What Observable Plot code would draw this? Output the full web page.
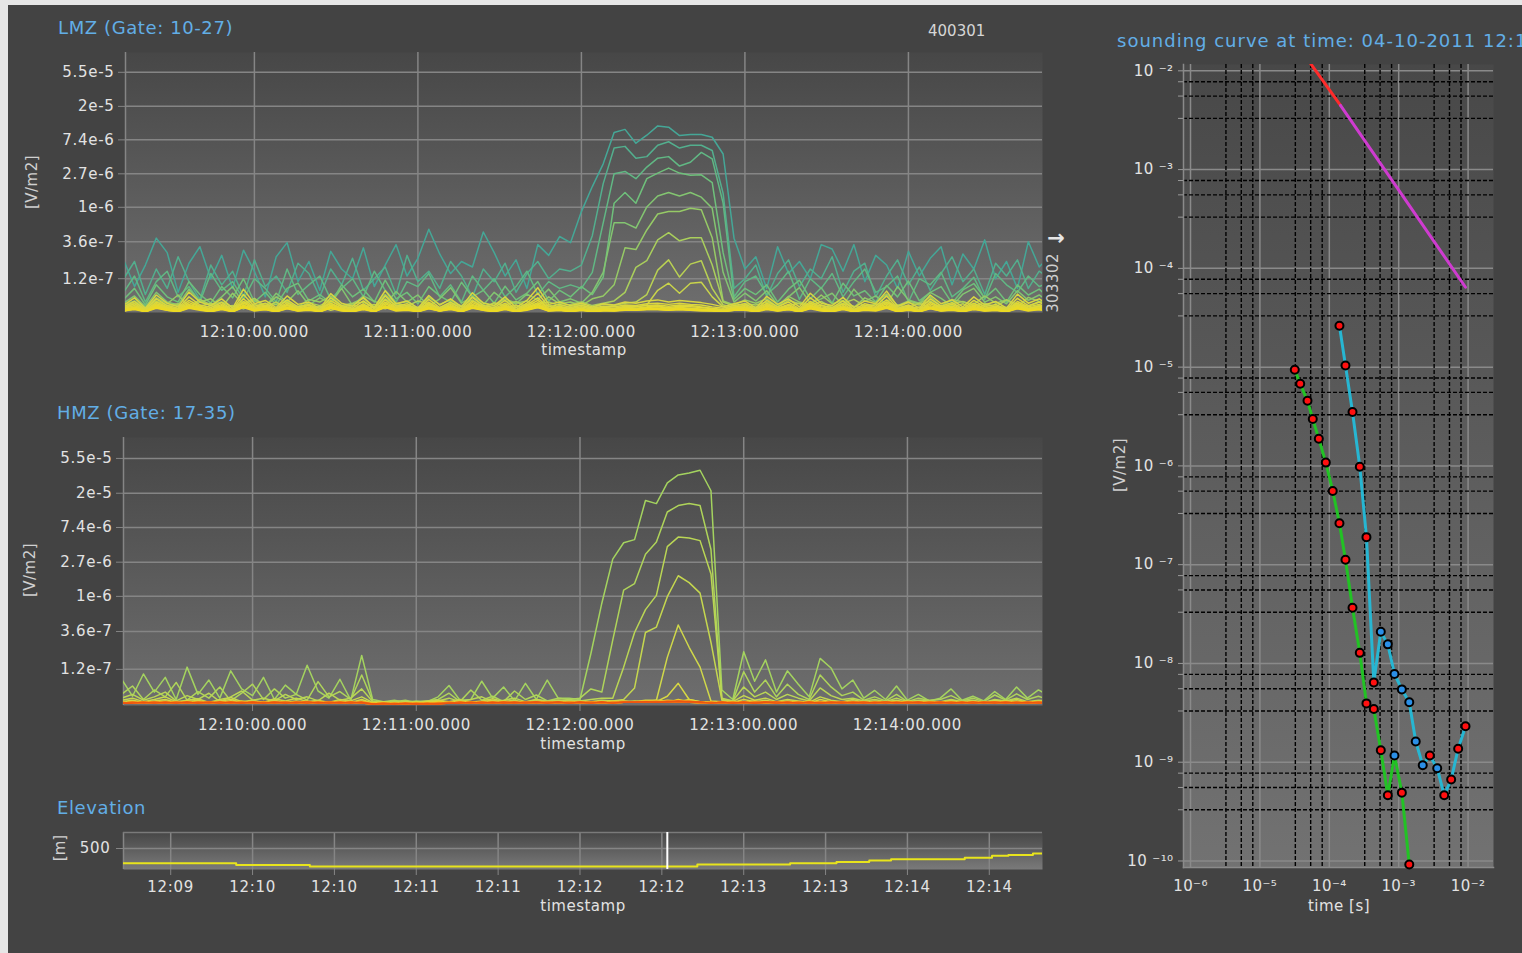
<!DOCTYPE html>
<html>
<head>
<meta charset="utf-8">
<script src="https://cdn.jsdelivr.net/npm/d3@7"></script>
<script src="https://cdn.jsdelivr.net/npm/@observablehq/plot@0.6"></script>
<style>
  html, body { margin: 0; padding: 0; width: 1522px; height: 953px; overflow: hidden; background: #e6e6e6; font-family: "DejaVu Sans", sans-serif; }
  #panel { position: absolute; left: 8px; top: 5px; width: 1514px; height: 948px; background: #434343; }
  .abs { position: absolute; white-space: nowrap; line-height: 1; }
</style>
</head>
<body>
<div id="panel"></div>
<div id="root"></div>
<script>
// ---------- record ----------
const recordDate = "04-10-2011";
const cursorClock = "12:12:32";

// 4 s sampling clock of the flight line
const sampleTime = [
  "12:09:12","12:09:16","12:09:20","12:09:24","12:09:28","12:09:32","12:09:36","12:09:40","12:09:44","12:09:48",
  "12:09:52","12:09:56","12:10:00","12:10:04","12:10:08","12:10:12","12:10:16","12:10:20","12:10:24","12:10:28",
  "12:10:32","12:10:36","12:10:40","12:10:44","12:10:48","12:10:52","12:10:56","12:11:00","12:11:04","12:11:08",
  "12:11:12","12:11:16","12:11:20","12:11:24","12:11:28","12:11:32","12:11:36","12:11:40","12:11:44","12:11:48",
  "12:11:52","12:11:56","12:12:00","12:12:04","12:12:08","12:12:12","12:12:16","12:12:20","12:12:24","12:12:28",
  "12:12:32","12:12:36","12:12:40","12:12:44","12:12:48","12:12:52","12:12:56","12:13:00","12:13:04","12:13:08",
  "12:13:12","12:13:16","12:13:20","12:13:24","12:13:28","12:13:32","12:13:36","12:13:40","12:13:44","12:13:48",
  "12:13:52","12:13:56","12:14:00","12:14:04","12:14:08","12:14:12","12:14:16","12:14:20","12:14:24","12:14:28",
  "12:14:32","12:14:36","12:14:40","12:14:44","12:14:48","12:14:52"
];

// ---------- LMZ dB/dt per gate, in 1e-9 V/m2 ----------
const lmzG10 = [210,95,180,400,260,80,190,310,120,240, 90,280,150,70,230,350,110,200,85,270, 160,120,300,95,180,330,130,220,520,250, 140,200,170,480,260,130,210,90,330,240, 420,350,880,1850,3630,9200,10100,6700,8500,11200, 10800,8400,8700,8700,8000,4860,400,160,230,90, 310,140,200,120,330,290,150,330,110,240, 180,90,270,130,220,310,100,250,160,380, 120,200,90,360,170,240];
const lmzG11 = [120,200,75,160,90,230,110,65,180,100, 150,70,210,95,130,80,190,140,70,160, 100,220,85,120,170,75,240,110,150,90, 200,130,70,160,110,190,80,140,200,120, 160,150,180,430,2020,5800,6100,4300,4500,6300, 7000,5800,6300,6300,5400,1510,90,120,180,70, 140,210,95,160,120,230,80,150,190,70, 130,210,100,170,85,140,230,110,160,75, 190,130,210,90,150,120];
const lmzG12 = [80,130,60,110,150,70,95,60,140,85, 110,65,120,90,60,160,75,100,130,65, 90,120,70,150,85,60,110,95,140,70, 100,60,130,85,120,70,95,150,75,110, 90,100,90,145,630,2710,2900,2340,3300,4300, 4500,3400,3800,5100,4200,1130,70,110,130,75, 100,150,65,120,90,140,70,110,160,80, 95,130,60,120,100,145,70,90,125,65, 140,100,80,130,95,110];
const lmzG13 = [65,90,55,100,70,60,110,75,58,95, 68,120,60,80,55,90,105,62,75,58, 100,70,88,60,115,66,80,57,95,72, 60,108,70,85,58,96,64,78,110,62, 85,70,95,75,126,1130,1550,1130,2340,2760, 3200,2760,2580,2620,2080,260,65,90,75,100, 60,88,115,66,92,58,105,72,84,60, 98,70,112,62,80,95,58,86,104,68, 90,60,100,74,88,65];
const lmzG14 = [58,72,52,80,60,55,88,62,54,70, 95,57,66,52,78,60,84,55,68,58, 90,54,72,61,56,82,60,74,53,66, 92,58,70,55,80,62,57,76,64,88, 60,66,58,80,145,630,630,540,1010,1400, 1550,1400,1550,1350,970,145,60,78,62,84, 55,70,92,58,66,78,54,88,61,72, 56,95,64,58,80,67,53,76,90,60, 70,57,84,63,74,59];
const lmzG15 = [55,62,50,68,57,74,52,60,66,51, 78,56,63,53,70,58,52,65,60,72, 54,58,67,52,75,57,61,50,69,56, 64,52,71,59,54,66,58,62,53,70, 57,60,54,66,72,100,300,285,510,820, 880,880,970,930,405,62,55,64,58,66, 52,71,60,55,74,57,63,51,68,59, 76,54,62,57,70,53,65,60,56,72, 58,64,52,69,61,57];
const lmzG16 = [52,58,50,62,54,57,51,65,55,60, 52,58,67,53,56,61,50,59,54,63, 52,57,60,51,66,55,53,62,57,50, 59,54,64,52,58,55,61,51,57,60, 54,56,60,54,58,62,80,168,205,380, 470,370,405,405,180,60,53,57,55,60, 52,63,57,54,61,51,58,65,53,56, 60,52,59,55,62,50,57,61,54,58, 52,64,56,53,60,55];
const lmzG17 = [50,54,49,57,52,55,50,53,58,51, 54,49,56,52,60,50,53,55,51,57, 49,54,52,56,50,58,53,51,55,49, 57,52,54,50,59,53,51,56,52,55, 50,53,55,51,56,54,58,60,75,155, 210,126,185,205,90,55,51,54,52,56, 50,54,58,51,55,49,57,53,50,56, 52,55,51,58,50,54,52,57,49,55, 53,51,56,50,54,52];
const lmzG18 = [48,51,47,53,50,49,52,48,54,50, 47,52,49,51,48,55,50,49,53,47, 51,50,48,52,49,54,48,51,50,47, 53,49,51,48,52,50,55,48,51,49, 52,50,52,49,51,53,50,52,55,85, 105,78,105,108,70,52,49,51,50,53, 48,51,49,54,50,48,52,49,51,47, 53,50,48,52,50,54,49,51,48,50, 53,49,51,48,52,50];
const lmzG19 = [55,68,50,74,58,52,81,60,54,66, 50,88,57,63,51,72,56,60,49,77, 58,53,69,51,84,57,62,50,73,55, 66,52,79,58,54,70,51,63,92,56, 60,54,58,52,57,55,60,58,62,64, 60,63,61,59,56,52,57,62,50,71, 56,66,52,78,58,54,69,51,62,57, 83,53,60,50,74,57,64,52,70,55, 61,50,76,58,66,53];
const lmzG20 = [52,61,48,66,54,50,70,55,51,59, 48,75,53,58,49,64,52,56,47,68, 54,50,62,49,72,53,57,48,65,51, 60,49,69,54,51,63,48,58,78,52, 56,51,54,50,53,52,55,54,57,58, 56,58,56,55,52,50,54,57,48,63, 52,60,49,68,54,51,62,48,57,53, 72,50,55,48,66,53,59,49,63,52, 56,48,67,54,60,50];
const lmzG21 = [50,57,47,60,52,49,63,53,49,56, 47,66,51,55,48,59,50,54,46,62, 52,48,57,47,64,51,54,47,60,49, 56,48,62,52,49,58,47,55,68,50, 53,49,52,48,51,50,53,52,54,55, 53,55,54,52,50,48,52,54,47,58, 50,56,48,61,52,49,57,47,54,51, 64,49,53,47,60,51,56,48,58,50, 53,47,61,52,56,49];
const lmzG22 = [49,54,46,57,51,48,59,52,48,54, 46,61,50,53,47,56,49,52,46,58, 50,47,55,46,60,50,52,46,57,48, 54,47,59,51,48,55,46,53,63,49, 51,48,50,47,50,49,51,50,52,53, 51,53,52,51,49,47,51,52,46,55, 49,54,47,58,50,48,54,46,52,50, 60,48,51,46,57,50,53,47,55,49, 51,46,58,50,53,48];
const lmzG23 = [48,52,46,55,50,47,56,51,47,52, 46,58,49,51,46,54,48,51,45,55, 49,46,53,46,57,49,51,46,54,47, 52,46,56,50,47,53,46,51,59,48, 50,47,49,46,49,48,50,49,51,52, 50,51,50,49,48,46,50,51,46,53, 48,52,46,55,49,47,52,46,51,49, 57,47,50,46,54,49,51,46,53,48, 50,46,55,49,52,47];
const lmzG24 = [47,51,45,53,49,46,54,50,46,51, 45,55,48,50,46,52,47,50,45,53, 48,46,51,45,54,48,50,45,52,47, 51,46,54,49,46,51,45,50,56,47, 49,46,48,46,48,47,49,48,50,50, 49,50,49,48,47,46,49,50,45,51, 47,50,46,53,48,46,51,45,50,48, 54,46,49,45,52,48,50,46,51,47, 49,45,53,48,50,46];
const lmzG25 = [47,50,45,52,48,46,52,49,46,50, 45,53,47,49,45,51,47,49,45,52, 47,45,50,45,53,47,49,45,51,46, 50,45,52,48,46,50,45,49,54,47, 48,46,48,45,47,47,48,48,49,49, 48,49,48,47,47,45,48,49,45,50, 47,49,45,51,47,46,50,45,49,47, 52,46,48,45,51,47,49,45,50,47, 48,45,51,47,49,46];
const lmzG26 = [46,49,45,51,47,45,51,48,45,49, 45,52,47,48,45,50,46,48,45,51, 47,45,49,45,52,47,48,45,50,46, 49,45,51,47,45,49,45,48,52,46, 47,45,47,45,47,46,48,47,48,48, 47,48,47,47,46,45,47,48,45,49, 46,48,45,50,47,45,49,45,48,47, 51,45,48,45,50,46,48,45,49,46, 47,45,50,47,48,45];
const lmzG27 = [46,48,45,50,47,45,50,47,45,48, 45,51,46,48,45,49,46,47,45,50, 46,45,48,45,51,46,47,45,49,46, 48,45,50,47,45,48,45,47,51,46, 47,45,47,45,46,46,47,47,48,48, 47,48,47,46,46,45,47,47,45,48, 46,48,45,49,46,45,48,45,47,46, 50,45,47,45,49,46,47,45,48,46, 47,45,49,46,48,45];

// ---------- HMZ dB/dt per gate, in 1e-9 V/m2 ----------
const hmzG17 = [90,55,105,62,95,50,128,58,88,52, 115,68,56,95,50,76,58,135,64,52, 90,49,180,50,47,49,46,48,47,54, 75,49,50,85,52,72,48,80,50,88, 52,52,50,190,820,2950,4750,5200,16200,14800, 27000,34000,36000,39000,21500,66,50,200,85,158, 62,115,78,54,165,125,68,88,52,65, 50,74,49,58,48,52,68,49,55,48, 63,50,72,52,66,56];
const hmzG18 = [58,74,50,66,54,82,49,63,52,72, 48,60,78,50,68,52,58,49,84,54, 63,50,102,48,46,47,49,46,48,50, 60,47,66,49,55,47,64,50,57,48, 52,50,52,68,62,280,1200,1450,3400,4850, 11600,14000,14800,14000,3900,50,48,112,62,88, 54,78,58,50,102,72,56,62,49,54, 48,58,47,52,49,50,56,48,52,47, 57,49,59,50,55,49];
const hmzG19 = [52,58,49,54,62,48,56,50,60,47, 54,64,49,52,48,58,50,54,48,60, 49,52,68,47,46,48,46,47,46,48, 52,47,50,54,47,49,52,47,50,48, 49,49,48,50,52,52,128,350,680,1030, 4250,5600,5450,5050,1920,52,48,72,54,62, 50,58,52,48,70,56,50,52,48,50, 47,52,47,49,48,47,50,47,49,46, 50,48,52,47,49,48];
const hmzG20 = [49,52,47,50,54,47,49,51,46,50, 53,47,49,46,51,48,52,47,49,46, 50,48,54,46,47,45,47,46,48,49, 47,50,46,48,51,47,49,46,50,47, 49,47,48,47,49,48,50,70,350,410, 990,1820,1490,1100,262,49,47,56,49,52, 47,50,48,46,54,49,47,50,46,48, 47,49,46,48,47,46,49,47,48,46, 49,47,50,46,48,47];
const hmzG21 = [47,49,46,48,50,46,47,49,45,48, 50,46,47,45,49,46,48,46,47,45, 48,46,50,45,46,45,46,45,47,48, 46,48,45,47,49,46,47,45,48,46, 47,46,47,46,47,46,48,47,49,49, 170,435,228,128,48,47,46,50,47,49, 46,48,47,45,50,47,46,48,45,47, 46,47,45,47,46,45,47,46,47,45, 48,46,48,45,47,46];
const hmzG22 = [46,47,45,47,48,45,46,47,45,46, 48,45,46,45,47,45,46,45,46,45, 47,45,48,45,45,44,45,45,46,47, 45,46,45,46,47,45,46,45,47,45, 46,45,46,45,46,45,46,46,47,47, 55,80,50,47,46,46,45,47,46,47, 45,46,46,45,47,46,45,46,45,46, 45,46,45,46,45,45,46,45,46,45, 47,45,46,45,46,45];
const hmzG23 = [46,47,45,47,46,45,48,46,45,47, 46,48,45,46,47,45,46,48,45,47, 46,45,47,45,46,45,45,46,45,47, 46,45,47,46,45,48,46,45,47,46, 45,47,46,45,46,48,47,46,47,49, 48,47,50,47,46,45,47,46,48,45, 47,46,45,48,46,45,47,46,45,47, 46,45,48,46,45,47,45,46,47,45, 46,48,45,47,46,45];
const hmzG24 = [45,46,45,47,45,46,47,45,46,45, 47,45,46,45,47,46,45,46,47,45, 46,45,46,45,45,44,45,45,46,45, 47,45,46,45,47,45,46,47,45,46, 45,46,45,46,45,47,46,48,46,47, 49,48,47,46,45,46,45,47,45,46, 45,47,46,45,46,45,47,45,46,45, 46,47,45,46,45,46,47,45,46,45, 47,45,46,45,47,46];
const hmzG25 = [46,45,47,45,46,45,46,47,45,46, 45,47,46,45,46,45,47,45,46,45, 47,46,45,45,44,45,44,45,45,46, 45,46,47,45,46,45,47,45,46,45, 46,45,47,45,46,45,47,46,48,47, 46,50,47,46,45,47,46,45,46,47, 45,46,45,47,45,46,45,46,47,45, 46,45,46,45,47,45,46,45,46,47, 45,46,45,47,45,46];
const hmzG26 = [45,46,45,46,47,45,46,45,47,45, 46,45,46,47,45,46,45,46,45,47, 45,46,45,44,45,44,45,44,45,46, 45,47,45,46,45,46,45,47,45,46, 45,46,45,46,47,45,46,47,46,48, 47,46,48,45,46,45,46,47,45,46, 45,46,47,45,46,45,46,45,47,45, 46,45,47,45,46,45,46,47,45,46, 45,47,45,46,45,46];
const hmzG27 = [46,45,46,45,46,47,45,46,45,46, 47,45,46,45,46,45,47,45,46,45, 46,45,47,45,44,45,44,45,44,45, 46,45,46,47,45,46,45,46,45,47, 45,46,45,47,45,46,48,46,47,46, 48,47,46,45,47,45,46,45,47,45, 46,47,45,46,45,46,45,47,45,46, 45,46,45,46,47,45,46,45,46,45, 47,45,46,47,45,46];
const hmzG28 = [45,46,47,45,46,45,46,45,46,47, 45,46,45,47,45,46,45,46,47,45, 46,45,46,44,45,44,45,45,44,46, 45,46,45,46,45,47,46,45,46,45, 46,47,45,46,45,47,46,47,46,47, 46,49,46,47,45,46,45,46,45,47, 46,45,46,45,47,45,46,45,46,45, 47,46,45,46,45,46,47,45,46,45, 46,45,47,45,46,45];
const hmzG29 = [46,45,46,47,45,46,45,47,45,46, 45,46,47,45,46,45,46,45,46,47, 45,46,45,45,44,45,44,45,45,44, 46,45,47,45,46,45,46,45,47,46, 45,46,45,46,47,45,46,47,48,46, 47,46,47,46,45,46,47,45,46,45, 47,45,46,45,46,47,45,46,45,46, 45,46,47,45,46,45,46,45,47,45, 46,47,45,46,45,46];
const hmzG30 = [45,46,45,46,45,47,46,45,46,45, 46,47,45,46,45,47,45,46,45,46, 47,45,46,44,45,44,44,45,44,45, 46,45,46,45,47,45,46,45,46,47, 45,46,47,45,46,45,47,46,47,48, 46,47,46,45,46,45,46,45,47,45, 46,45,47,45,46,45,46,47,45,46, 45,47,45,46,45,46,45,46,45,47, 45,46,45,47,46,45];
const hmzG31 = [46,45,46,45,47,45,46,45,46,45, 47,45,46,45,46,47,45,46,45,47, 45,46,45,44,45,44,45,44,45,44, 45,46,45,47,45,46,45,47,45,46, 45,47,45,46,45,46,47,46,47,46, 47,48,46,46,45,47,45,46,45,46, 45,47,45,46,45,47,45,46,45,46, 47,45,46,45,46,45,47,45,46,45, 46,45,46,45,47,45];
const hmzG32 = [45,46,45,47,45,46,45,46,47,45, 46,45,46,45,47,45,46,45,46,45, 46,45,47,44,45,44,45,44,44,45, 46,45,46,45,46,45,47,45,46,45, 46,45,46,47,45,46,46,47,46,47, 46,47,48,46,45,46,45,47,45,46, 45,46,45,47,45,46,45,46,47,45, 46,45,46,45,46,47,45,46,45,46, 45,47,45,46,45,46];
const hmzG33 = [46,45,46,45,46,45,47,45,46,45, 46,45,47,45,46,45,46,47,45,46, 45,47,45,44,44,45,44,45,44,45, 45,46,45,46,45,47,45,46,45,46, 47,45,46,45,46,45,47,46,47,46, 48,46,47,45,46,45,46,45,46,47, 45,46,45,46,45,46,47,45,46,45, 46,45,46,47,45,46,45,46,45,46, 47,45,46,45,46,45];
const hmzG34 = [45,46,45,46,45,46,45,46,45,47, 45,46,45,46,45,46,45,47,45,46, 45,46,45,44,45,44,44,44,45,44, 45,46,45,46,45,46,45,46,47,45, 46,45,46,45,47,45,46,47,46,47, 46,47,46,47,45,46,45,46,45,46, 47,45,46,45,46,45,46,45,46,45, 47,45,46,45,46,45,46,45,47,45, 46,45,46,45,46,45];
const hmzG35 = [45,45,46,45,46,45,46,45,46,45, 46,45,46,45,46,45,46,45,46,45, 46,45,46,44,44,44,45,44,44,44, 45,45,46,45,46,45,46,45,46,45, 46,45,46,45,46,45,46,46,47,46, 47,48,47,46,45,46,45,46,45,46, 45,46,45,46,45,46,45,46,45,46, 45,46,45,46,45,46,45,46,45,46, 45,46,45,46,45,46];

// ---------- elevation [m] ----------
const elevTime  = ["12:09:12","12:09:54","12:10:21","12:12:43","12:13:17","12:13:34","12:13:46","12:13:54","12:14:21","12:14:31","12:14:37","12:14:46","12:14:52"];
const elevValue = [463, 459, 455, 460, 463, 466, 470, 473, 477, 482, 484, 487.5, 487.5];

// ---------- sounding at the cursor time ----------
const gateTimeS = [3.18e-5, 3.81e-5, 4.85e-5, 5.78e-5, 7.06e-5, 8.91e-5, 1.12e-4, 1.40e-4, 1.71e-4, 2.16e-4, 2.75e-4, 3.43e-4, 4.38e-4,
                   5.52e-4, 6.97e-4, 8.69e-4, 1.11e-3, 1.42e-3, 1.76e-3, 2.22e-3, 2.81e-3, 3.59e-3, 4.53e-3, 5.70e-3, 7.19e-3, 9.18e-3];
// LMZ gates 10-27, HMZ gates 17-35 (signed, V/m2)
const lmzSound = [9.39e-6, 6.78e-6, 4.56e-6, 2.98e-6, 1.88e-6, 1.08e-6, 5.57e-7, 2.63e-7, 1.12e-7, 3.66e-8, 1.28e-8, 3.94e-9,
                  3.46e-9, 1.32e-9, 4.62e-10, -1.17e-9, 4.92e-10, 9.2e-11];
const hmzSound = [2.62e-5, 1.04e-5, 3.51e-6, 9.82e-7, 1.90e-7, 6.43e-9, -2.09e-8, -1.56e-8, -7.82e-9, -5.46e-9, -4.04e-9,
                  -1.62e-9, -9.31e-10, 1.17e-9, -8.67e-10, 4.62e-10, 6.67e-10, 1.37e-9, 2.31e-9];
const refLineLmzTime = [5.01e-5, 1.45e-4];
const refLineLmzValue = [1.27e-2, 4.46e-3];
const refLineHmzTime = [1.45e-4, 9.18e-3];
const refLineHmzValue = [4.46e-3, 6.44e-5];

// ---------- ticks ----------
const dbdtTickLabels = ["1.2e-7", "3.6e-7", "1e-6", "2.7e-6", "7.4e-6", "2e-5", "5.5e-5"];
const minuteTickLabels = ["12:10:00.000", "12:11:00.000", "12:12:00.000", "12:13:00.000", "12:14:00.000"];
const elevTickTimes = ["12:09:30","12:10:00","12:10:30","12:11:00","12:11:30","12:12:00","12:12:30","12:13:00","12:13:30","12:14:00","12:14:30"];
const elevTickValues = [500];
const sndXDecades = [1e-6, 1e-5, 1e-4, 1e-3, 1e-2];
const sndXTickLabels = ["10\u207B\u2076", "10\u207B\u2075", "10\u207B\u2074", "10\u207B\u00B3", "10\u207B\u00B2"];
const sndYDecades = [1e-2, 1e-3, 1e-4, 1e-5, 1e-6, 1e-7, 1e-8, 1e-9, 1e-10];
const sndYTickLabels = ["10 \u207B\u00B2", "10 \u207B\u00B3", "10 \u207B\u2074", "10 \u207B\u2075", "10 \u207B\u2076",
                        "10 \u207B\u2077", "10 \u207B\u2078", "10 \u207B\u2079", "10 \u207B\u00B9\u2070"];
const sndXMinorSteps = [3.24, 5.39, 7.9];
const sndYMinorSteps = [3.3, 5.55, 7.75];

// ---------- gate colours ----------
const lmzColorGates = [10, 13, 16, 19, 27];
const lmzColorStops = ["#45a797", "#6fc07b", "#aacf5c", "#d8d642", "#ecda22"];
const hmzColorGates = [17, 21, 25, 29, 35];
const hmzColorStops = ["#a4d35f", "#d0d84a", "#ead92c", "#f4b020", "#ee5510"];

// ======================================================================
const parseClock = d3.utcParse("%d-%m-%Y %H:%M:%S.%L");
const at = s => parseClock(`${recordDate} ${s.length === 8 ? s + ".000" : s}`);
const sampleDates = sampleTime.map(at);
const fmtClock = d3.utcFormat("%H:%M:%S.%L");
const fmtHM = d3.utcFormat("%H:%M");

const lmzColor = d3.scaleLinear().domain(lmzColorGates).range(lmzColorStops);
const hmzColor = d3.scaleLinear().domain(hmzColorGates).range(hmzColorStops);

const lmzSeries = [[10, lmzG10], [11, lmzG11], [12, lmzG12], [13, lmzG13], [14, lmzG14], [15, lmzG15], [16, lmzG16], [17, lmzG17], [18, lmzG18],
                   [19, lmzG19], [20, lmzG20], [21, lmzG21], [22, lmzG22], [23, lmzG23], [24, lmzG24], [25, lmzG25], [26, lmzG26], [27, lmzG27]];
const hmzSeries = [[17, hmzG17], [18, hmzG18], [19, hmzG19], [20, hmzG20], [21, hmzG21], [22, hmzG22], [23, hmzG23], [24, hmzG24], [25, hmzG25], [26, hmzG26],
                   [27, hmzG27], [28, hmzG28], [29, hmzG29], [30, hmzG30], [31, hmzG31], [32, hmzG32], [33, hmzG33], [34, hmzG34], [35, hmzG35]];
const toRows = series => series.flatMap(([gate, vals]) => vals.map((v, k) => ({gate, time: sampleDates[k], value: v * 1e-9})));
const lmzRows = toRows(lmzSeries);
const hmzRows = toRows(hmzSeries);
const elevRows = elevTime.map((s, i) => ({time: at(s), value: elevValue[i]}));

const dbdtTicks = dbdtTickLabels.map(Number);
const dbdtLabel = new Map(dbdtTicks.map((v, i) => [v, dbdtTickLabels[i]]));
const minuteTicks = minuteTickLabels.map(at);
const elevTicks = elevTickTimes.map(at);

const root = document.getElementById("root");
const GRID = "#858585";
const TEXT = "#e2e2e2";
const baseStyle = {background: "transparent", color: TEXT, fontFamily: "DejaVu Sans, sans-serif", fontSize: "15px", overflow: "visible"};

function place(svg, left, top, spacing = "0.7px") {
  svg.style.position = "absolute";
  svg.style.left = left + "px";
  svg.style.top = top + "px";
  svg.style.maxWidth = "none";
  svg.style.letterSpacing = spacing;
  root.appendChild(svg);
}
function gradient(svg, id, top, bottom) {
  const ns = "http://www.w3.org/2000/svg";
  const defs = document.createElementNS(ns, "defs");
  const g = document.createElementNS(ns, "linearGradient");
  g.setAttribute("id", id);
  g.setAttribute("x1", "0"); g.setAttribute("y1", "0"); g.setAttribute("x2", "0"); g.setAttribute("y2", "1");
  [[0, top], [1, bottom]].forEach(([o, c]) => {
    const s = document.createElementNS(ns, "stop");
    s.setAttribute("offset", o); s.setAttribute("stop-color", c);
    g.appendChild(s);
  });
  defs.appendChild(g);
  svg.insertBefore(defs, svg.firstChild);
}
function label(str, x, cy, {size = 15, color = "#d8d8d8", anchor = "start", rotate = false, spacing = 0, weight = "normal"} = {}) {
  const el = document.createElement("div");
  el.className = "abs";
  el.textContent = str;
  el.style.fontSize = size + "px";
  el.style.letterSpacing = spacing + "px";
  el.style.fontWeight = weight;
  el.style.color = color;
  el.style.left = x + "px";
  el.style.top = cy + "px";
  const tx = rotate || anchor === "middle" ? "-50%" : anchor === "end" ? "-100%" : "0";
  el.style.transform = `translate(${tx}, -50%)` + (rotate ? " rotate(-90deg)" : "");
  root.appendChild(el);
}

// ---------- dB/dt time-series panel ----------
function dbdtPanel({rows, colorOf, gradId, left, top, marginLeft, frameTop, frameBottom, domainY, domainX}) {
  const height = 330;
  const svg = Plot.plot({
    width: 1100, height,
    marginLeft, marginRight: 58, marginTop: frameTop - top, marginBottom: height - (frameBottom - top),
    style: baseStyle,
    x: {type: "utc", domain: domainX},
    y: {type: "log", domain: domainY},
    color: {type: "identity"},
    marks: [
      Plot.frame({fill: `url(#${gradId})`, stroke: "none"}),
      Plot.gridY(dbdtTicks, {stroke: GRID, strokeOpacity: 1, strokeWidth: 1.5}),
      Plot.gridX(minuteTicks, {stroke: GRID, strokeOpacity: 1, strokeWidth: 1.5}),
      Plot.ruleX([domainX[0]], {stroke: GRID, strokeWidth: 1.5}),
      Plot.axisY(dbdtTicks, {tickFormat: () => "", tickSize: 7, stroke: GRID, label: null}),
      Plot.text(dbdtTicks, {y: d => d, text: d => dbdtLabel.get(d), frameAnchor: "left", textAnchor: "end", dx: -11, fill: TEXT}),
      Plot.axisX(minuteTicks, {tickFormat: fmtClock, tickSize: 6, tickPadding: 8, stroke: GRID, fill: TEXT, label: null}),
      Plot.line(rows, {x: "time", y: "value", z: "gate", stroke: d => colorOf(d.gate), strokeWidth: 1.5, clip: true})
    ]
  });
  gradient(svg, gradId, "#474747", "#6e6e6e");
  place(svg, left, top);
}

dbdtPanel({rows: lmzRows, colorOf: lmzColor, gradId: "bgLmz", left: 0, top: 40, marginLeft: 125, frameTop: 52, frameBottom: 312,
           domainY: [4.4e-8, 9.9e-5], domainX: [at("12:09:12.700"), at("12:14:49.200")]});
dbdtPanel({rows: hmzRows, colorOf: hmzColor, gradId: "bgHmz", left: 0, top: 425, marginLeft: 123, frameTop: 437, frameBottom: 705,
           domainY: [4.2e-8, 1.01e-4], domainX: [at("12:09:12.700"), at("12:14:49.500")]});

// ---------- elevation panel ----------
{
  const domainX = [at("12:09:12.700"), at("12:14:49.500")];
  const svg = Plot.plot({
    width: 1100, height: 110,
    marginLeft: 123, marginRight: 58, marginTop: 12, marginBottom: 61,
    style: baseStyle,
    x: {type: "utc", domain: domainX},
    y: {domain: [447.5, 540]},
    marks: [
      Plot.frame({fill: "url(#bgElev)", stroke: "none"}),
      Plot.gridY(elevTickValues, {stroke: GRID, strokeOpacity: 1, strokeWidth: 1.5}),
      Plot.gridX(elevTicks, {stroke: GRID, strokeOpacity: 1, strokeWidth: 1.5}),
      Plot.ruleX([domainX[0]], {stroke: GRID, strokeWidth: 1.5}),
      Plot.ruleY([540], {stroke: "#7a7a7a", strokeWidth: 1.5}),
      Plot.axisY(elevTickValues, {tickFormat: d => String(d), tickSize: 7, tickPadding: 6, stroke: GRID, fill: TEXT, label: null}),
      Plot.axisX(elevTicks, {tickFormat: fmtHM, tickSize: 6, tickPadding: 6, stroke: GRID, fill: TEXT, label: null}),
      Plot.line(elevRows, {x: "time", y: "value", curve: "step-after", stroke: "#e8e41c", strokeWidth: 2, clip: true}),
      Plot.ruleX([at(cursorClock)], {stroke: "#ffffff", strokeWidth: 2})
    ]
  });
  gradient(svg, "bgElev", "#474747", "#7a7a7a");
  place(svg, 0, 820);
}

// ---------- sounding curve ----------
{
  const lmzSnd = lmzSound.map((v, i) => ({t: gateTimeS[i], v}));          // gates 10..27
  const hmzSnd = hmzSound.map((v, i) => ({t: gateTimeS[i + 7], v}));      // gates 17..35
  const refLmz = refLineLmzTime.map((t, i) => ({t, v: refLineLmzValue[i]}));
  const refHmz = refLineHmzTime.map((t, i) => ({t, v: refLineHmzValue[i]}));
  const minorX = sndXDecades.slice(0, -1).flatMap(d => sndXMinorSteps.map(m => d * m));
  const minorY = sndYDecades.slice(1).flatMap(d => sndYMinorSteps.map(m => d * m));
  const yLabel = new Map(sndYDecades.map((v, i) => [v, sndYTickLabels[i]]));
  const xLabel = new Map(sndXDecades.map((v, i) => [v, sndXTickLabels[i]]));
  const dotFill = d => d.v < 0 ? "#2b8fe6" : "#ff1010";
  const svg = Plot.plot({
    width: 422, height: 880,
    marginLeft: 83, marginRight: 29, marginTop: 14, marginBottom: 63,
    style: baseStyle,
    x: {type: "log", domain: [Math.pow(10, -6.101), Math.pow(10, -1.634)]},
    y: {type: "log", domain: [Math.pow(10, -10.066), Math.pow(10, -1.936)]},
    color: {type: "identity"},
    marks: [
      Plot.frame({fill: "url(#bgSnd)", stroke: "none"}),
      Plot.gridX(sndXDecades, {stroke: "#8a8a8a", strokeOpacity: 1, strokeWidth: 1.5}),
      Plot.gridY(sndYDecades, {stroke: "#8a8a8a", strokeOpacity: 1, strokeWidth: 1.5}),
      Plot.gridX(minorX, {stroke: "#000", strokeOpacity: 1, strokeWidth: 1.4, strokeDasharray: "4,2"}),
      Plot.gridY(minorY, {stroke: "#000", strokeOpacity: 1, strokeWidth: 1.4, strokeDasharray: "4,2"}),
      Plot.frame({anchor: "left", stroke: "#8a8a8a", strokeWidth: 1.5}),
      Plot.frame({anchor: "bottom", stroke: "#8a8a8a", strokeWidth: 1.5}),
      Plot.axisY(minorY, {tickFormat: () => "", tickSize: 5, stroke: "#9a9a9a", label: null}),
      Plot.axisY(sndYDecades, {tickFormat: () => "", tickSize: 5, stroke: "#9a9a9a", label: null}),
      Plot.axisX(sndXDecades, {tickFormat: () => "", tickSize: 0, label: null}),
      Plot.text(sndYDecades, {y: d => d, text: d => yLabel.get(d), frameAnchor: "left", textAnchor: "end", dx: -10, fill: TEXT}),
      Plot.text(sndXDecades, {x: d => d, text: d => xLabel.get(d), frameAnchor: "bottom", lineAnchor: "top", dy: 13, fill: TEXT}),
      Plot.line(refLmz, {x: "t", y: "v", stroke: "#ff2b2b", strokeWidth: 3, clip: true}),
      Plot.line(refHmz, {x: "t", y: "v", stroke: "#cf3bd0", strokeWidth: 3, clip: true}),
      Plot.line(lmzSnd, {x: "t", y: d => Math.abs(d.v), stroke: "#22c224", strokeWidth: 3}),
      Plot.line(hmzSnd, {x: "t", y: d => Math.abs(d.v), stroke: "#27b6d2", strokeWidth: 3}),
      Plot.dot(lmzSnd, {x: "t", y: d => Math.abs(d.v), r: 4, fill: dotFill, stroke: "#000", strokeWidth: 2}),
      Plot.dot(hmzSnd, {x: "t", y: d => Math.abs(d.v), r: 4, fill: dotFill, stroke: "#000", strokeWidth: 2})
    ]
  });
  gradient(svg, "bgSnd", "#484848", "#727272");
  place(svg, 1100, 50, "0.4px");
}

// ---------- titles and axis names ----------
const TITLE = "#62aee6";
label("LMZ (Gate: 10-27)", 58, 28, {size: 18, color: TITLE, spacing: 0.6});
label("400301", 928, 31, {size: 15, color: "#d6d6d6"});
label("[V/m2]", 32, 182, {rotate: true, color: "#d0d0d0", spacing: 0.5});
label("timestamp", 584, 350, {anchor: "middle", color: TEXT, spacing: 0.5});
label("\u2192", 1056, 238, {size: 21, anchor: "middle", color: "#e6e6e6", weight: "bold"});
label("303302", 1053, 283, {rotate: true, color: "#cfcfcf", spacing: 0.4});

label("HMZ (Gate: 17-35)", 57, 413, {size: 18, color: TITLE, spacing: 0.6});
label("[V/m2]", 30, 570, {rotate: true, color: "#d0d0d0", spacing: 0.5});
label("timestamp", 583, 744, {anchor: "middle", color: TEXT, spacing: 0.5});

label("Elevation", 57, 808, {size: 18, color: TITLE, spacing: 0.6});
label("[m]", 60, 848, {rotate: true, color: "#d0d0d0"});
label("timestamp", 583, 906, {anchor: "middle", color: TEXT, spacing: 0.5});

label(`sounding curve at time: ${recordDate} ${cursorClock}`, 1117, 41, {size: 18, color: TITLE, spacing: 1.0});
label("[V/m2]", 1120, 465, {rotate: true, color: "#d0d0d0", spacing: 0.5});
label("time [s]", 1339, 906, {anchor: "middle", color: TEXT, spacing: 0.5});
</script>
</body>
</html>
